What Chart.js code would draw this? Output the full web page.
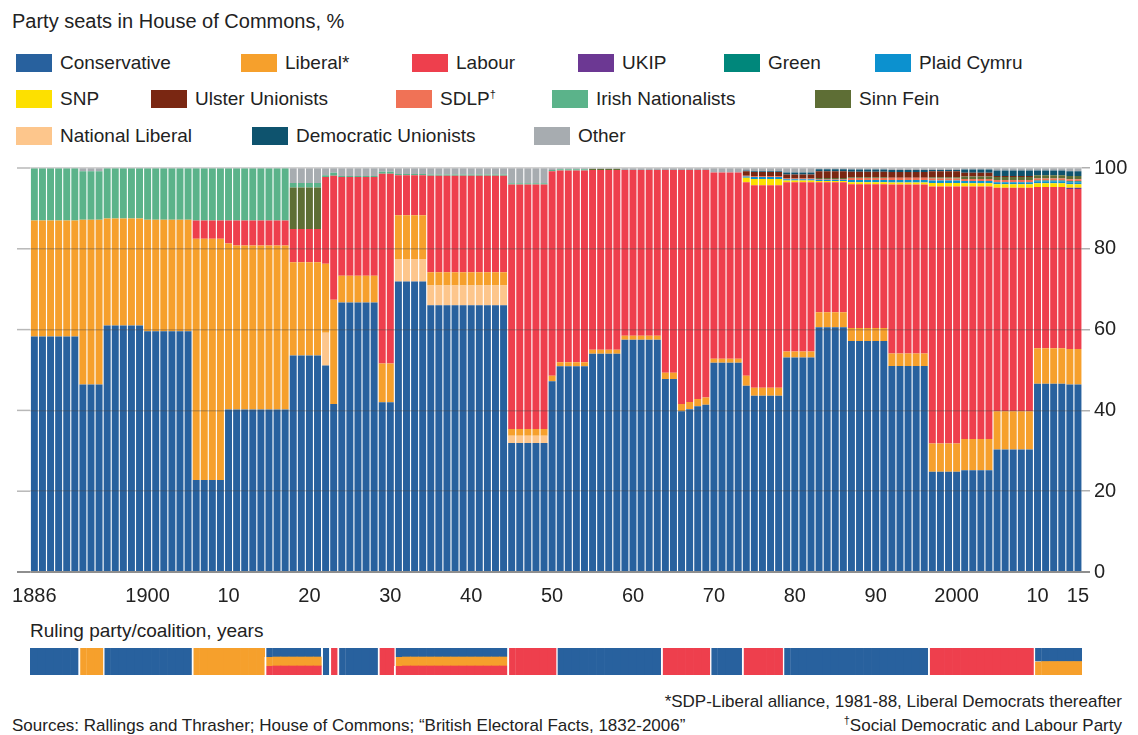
<!DOCTYPE html>
<html>
<head>
<meta charset="utf-8">
<script src="https://cdn.jsdelivr.net/npm/chart.js@4"></script>
<style>
  body { margin: 0; background: #fff; width: 1138px; height: 735px; overflow: hidden; position: relative;
         font-family: "Liberation Sans", Arial, sans-serif; color: #222; }
  .txt { position: absolute; white-space: nowrap; }
  .item { position: absolute; white-space: nowrap; font-size: 19px; line-height: 20px; }
  .sw { position: absolute; left: 0; top: 1px; width: 36px; height: 18px; }
  .item span.lab { position: absolute; left: 44px; top: 0; }
  sup { font-size: 11px; vertical-align: 7px; line-height: 0; }
  .box { position: absolute; left: 0; width: 1138px; }
</style>
</head>
<body>
<div class="txt" style="left:12px;top:10px;font-size:20px">Party seats in House of Commons, %</div>
<div id="legend"></div>
<div class="box" style="top:150px;height:470px"><canvas id="seatsChart"></canvas></div>
<div class="txt" style="left:30px;top:620px;font-size:19px">Ruling party/coalition, years</div>
<div class="box" style="top:640px;height:45px"><canvas id="rulingChart"></canvas></div>
<div class="txt" style="right:16px;top:692px;font-size:17px">*SDP-Liberal alliance, 1981-88, Liberal Democrats thereafter</div>
<div class="txt" style="left:12px;top:716px;font-size:17px">Sources: Rallings and Thrasher; House of Commons; “British Electoral Facts, 1832-2006”</div>
<div class="txt" style="right:16px;top:716px;font-size:17px"><sup>†</sup>Social Democratic and Labour Party</div>

<script>
// years shown, one bar each
const firstYear = 1886, lastYear = 2015;

// composition changes (elections, plus visible by-election drift)
const periodStart = [1886,1892,1895,1900,1906,1910,1911,1918,1922,1923,1924,1929,1931,1935,1945,1950,1951,1955,1959,1964,1966,1967,1968,1969,1970,1974,1975,1979,1983,1987,1992,1997,2001,2005,2010,2014];

// % of seats per period
const conservative    = [58.3,46.4,61.0,59.6,22.8,40.2,40.2,53.6,51.1,41.6,66.7,42.0,71.9,66.0,31.9,47.2,50.9,54.0,57.5,47.8,39.8,40.3,41.0,41.4,51.8,46.1,43.6,53.1,60.6,57.2,51.0,24.8,25.2,30.3,46.6,46.4];
const nationalLiberal = [0,0,0,0,0,0,0,0,8.1,0,0,0,5.6,4.9,1.8,0,0,0,0,0,0,0,0,0,0,0,0,0,0,0,0,0,0,0,0,0];
const liberal         = [28.7,40.8,26.5,27.6,59.7,41.1,40.6,23.1,17.1,25.8,6.6,9.6,10.8,3.3,1.7,1.4,1.0,1.0,1.0,1.5,1.8,1.8,1.8,1.8,1.0,2.5,2.0,1.5,3.7,3.2,3.1,7.0,7.7,9.5,8.8,8.8];
const labour          = [0,0,0,0,4.5,5.7,6.2,8.2,21.5,30.7,24.5,47.0,9.9,23.9,60.5,50.6,47.5,44.5,41.0,50.2,57.9,57.4,56.7,56.3,46.1,47.9,50.1,41.9,32.2,35.6,41.8,63.6,62.5,55.3,39.9,39.6];
const ukip            = [0,0,0,0,0,0,0,0,0,0,0,0,0,0,0,0,0,0,0,0,0,0,0,0,0,0,0,0,0,0,0,0,0,0,0,0.3];
const snp             = [0,0,0,0,0,0,0,0,0,0,0,0,0,0,0,0,0,0,0,0,0,0,0,0,0,1.1,1.6,0.4,0.3,0.5,0.5,0.9,0.8,0.9,0.9,0.9];
const plaidCymru      = [0,0,0,0,0,0,0,0,0,0,0,0,0,0,0,0,0,0,0,0,0,0,0,0,0,0.3,0.5,0.3,0.3,0.5,0.6,0.6,0.6,0.5,0.5,0.5];
const green           = [0,0,0,0,0,0,0,0,0,0,0,0,0,0,0,0,0,0,0,0,0,0,0,0,0,0,0,0,0,0,0,0,0,0,0.2,0.2];
const sdlp            = [0,0,0,0,0,0,0,0,0,0,0,0,0,0,0,0,0,0,0,0,0,0,0,0,0,0.2,0.2,0.2,0.2,0.5,0.6,0.5,0.5,0.5,0.5,0.5];
const sinnFein        = [0,0,0,0,0,0,0,10.3,0,0,0,0,0,0,0,0,0,0.3,0,0,0,0,0,0,0,0,0,0,0.2,0.2,0,0.3,0.6,0.8,0.8,0.8];
const irishNat        = [13.0,12.0,12.5,12.8,13.0,13.0,13.0,1.1,0.4,0.7,0.2,0.5,0.3,0.3,0.3,0.3,0.3,0,0,0,0,0,0,0,0,0,0,0,0,0,0,0,0,0,0,0];
const ulsterUnionists = [0,0,0,0,0,0,0,0,0,0,0,0,0,0,0,0,0,0,0,0,0,0,0,0,0,1.1,1.0,1.0,1.7,1.4,1.4,1.5,0.9,0.2,0,0];
const dup             = [0,0,0,0,0,0,0,0,0,0,0,0,0,0,0,0,0,0,0,0,0,0,0,0,0,0.2,0.2,0.5,0.5,0.5,0.5,0.3,0.8,1.4,1.2,1.2];
const other           = [0,0.8,0,0,0,0,0,3.7,1.8,1.2,2.0,0.9,1.5,1.6,3.8,0.5,0.3,0.2,0.5,0.5,0.5,0.5,0.5,0.5,1.1,0.6,0.8,1.1,0.3,0.4,0.5,0.5,0.4,0.6,0.6,0.8];

// stacking order, bottom to top
const series = [
  { name: 'Conservative',         color: '#28619e', values: conservative },
  { name: 'National Liberal',     color: '#fdc68c', values: nationalLiberal },
  { name: 'Liberal*',             color: '#f6a02c', values: liberal },
  { name: 'Labour',               color: '#ee3f4d', values: labour },
  { name: 'UKIP',                 color: '#6c3893', values: ukip },
  { name: 'SNP',                  color: '#fde000', values: snp },
  { name: 'Plaid Cymru',          color: '#0c91cf', values: plaidCymru },
  { name: 'Green',                color: '#00877b', values: green },
  { name: 'SDLP†',                color: '#f07256', values: sdlp },
  { name: 'Sinn Fein',            color: '#5e6e35', values: sinnFein },
  { name: 'Irish Nationalists',   color: '#5bb38a', values: irishNat },
  { name: 'Ulster Unionists',     color: '#7a2712', values: ulsterUnionists },
  { name: 'Democratic Unionists', color: '#0e536e', values: dup },
  { name: 'Other',                color: '#a7acb0', values: other }
];

// x tick text
const tickYears = [1886, 1900, 1910, 1920, 1930, 1940, 1950, 1960, 1970, 1980, 1990, 2000, 2010, 2015];
const tickText  = ['1886', '1900', '10', '20', '30', '40', '50', '60', '70', '80', '90', '2000', '10', '15'];

// ruling party / coalition
const rulingStart   = [1886, 1892, 1895, 1906, 1915, 1922, 1923, 1924, 1929, 1931, 1945, 1951, 1964, 1970, 1974, 1979, 1997, 2010];
const rulingParties = [['Con'], ['Lib'], ['Con'], ['Lib'], ['Con','Lib','Lab'], ['Con'], ['Lab'], ['Con'], ['Lab'],
                       ['Con','Lib','Lab'], ['Lab'], ['Con'], ['Lab'], ['Con'], ['Lab'], ['Con'], ['Lab'], ['Con','Lib']];

// legend rows as in the original
const legendRows = [
  ['Conservative', 'Liberal*', 'Labour', 'UKIP', 'Green', 'Plaid Cymru'],
  ['SNP', 'Ulster Unionists', 'SDLP†', 'Irish Nationalists', 'Sinn Fein'],
  ['National Liberal', 'Democratic Unionists', 'Other']
];
const legendLeft = [[16, 241, 412, 578, 724, 875], [16, 151, 396, 552, 815], [16, 252, 534]];
const legendTop = [53, 89, 126];

// ---- build per-year arrays
const years = [];
for (let y = firstYear; y <= lastYear; y++) years.push(y);

function periodIndex(starts, year) {
  let k = 0;
  for (let i = 0; i < starts.length; i++) if (starts[i] <= year) k = i;
  return k;
}

// legend
const legend = document.getElementById('legend');
legendRows.forEach((row, r) => {
  row.forEach((name, c) => {
    const s = series.find(d => d.name === name);
    const el = document.createElement('div');
    el.className = 'item';
    el.style.left = legendLeft[r][c] + 'px';
    el.style.top = legendTop[r] + 'px';
    const label = name.replace('†', '<sup>†</sup>');
    el.innerHTML = '<div class="sw" style="background:' + s.color + '"></div><span class="lab">' + label + '</span>';
    legend.appendChild(el);
  });
});

const font = '"Liberation Sans", Arial, sans-serif';

// gridline stubs to the left of the bars, plus baseline
const gridStubs = {
  id: 'gridStubs',
  afterDraw(chart) {
    const ys = chart.scales.y, c = chart.ctx, area = chart.chartArea;
    c.save();
    ys.ticks.forEach(t => {
      const py = ys.getPixelForValue(t.value);
      c.strokeStyle = t.value === 0 ? '#8e8e8e' : '#b8b8b8';
      c.lineWidth = t.value === 0 ? 2 : 1.5;
      c.beginPath(); c.moveTo(17, py); c.lineTo(area.left, py); c.stroke();
    });
    c.restore();
  }
};

new Chart(document.getElementById('seatsChart'), {
  type: 'bar',
  data: {
    labels: years,
    datasets: series.map(s => ({
      label: s.name,
      data: years.map(y => s.values[periodIndex(periodStart, y)] || null),
      backgroundColor: s.color,
      borderWidth: 0,
      barPercentage: 0.86,
      categoryPercentage: 1,
      stack: 'seats'
    }))
  },
  options: {
    responsive: true,
    maintainAspectRatio: false,
    animation: false,
    layout: { padding: { left: 30, top: 18, right: 0, bottom: 0 } },
    plugins: { legend: { display: false }, tooltip: { enabled: false } },
    scales: {
      x: {
        stacked: true,
        grid: { display: false, drawTicks: false },
        border: { display: false },
        ticks: {
          autoSkip: false, maxRotation: 0, padding: 12,
          color: '#222', font: { family: font, size: 20 },
          callback: function (v, i) {
            const k = tickYears.indexOf(years[i]);
            return k >= 0 ? tickText[k] : '';
          }
        },
        afterFit: s => { s.height = 48; }
      },
      y: {
        stacked: true,
        position: 'right',
        min: 0, max: 100,
        border: { display: false },
        grid: {
          z: 1,
          tickLength: 8,
          color: c => c.tick.value === 100 ? '#d2d2d2' : c.tick.value === 0 ? '#8e8e8e' : 'rgba(70,70,70,0.3)',
          tickColor: c => c.tick.value === 0 ? '#8e8e8e' : '#b0b0b0',
          lineWidth: c => c.tick.value === 0 ? 2 : 1.5
        },
        ticks: { stepSize: 20, padding: 4, color: '#222', font: { family: font, size: 20 } },
        afterFit: s => { s.width = 56; }
      }
    }
  },
  plugins: [gridStubs]
});

// ruling party strip
const rulingKeys = ['Lab', 'Lib', 'Con'];
const rulingColors = { Con: '#28619e', Lib: '#f6a02c', Lab: '#ee3f4d' };
const yearPeriod = years.map(y => periodIndex(rulingStart, y));

new Chart(document.getElementById('rulingChart'), {
  type: 'bar',
  data: {
    labels: years,
    datasets: rulingKeys.map(key => ({
      label: key,
      data: yearPeriod.map(p => rulingParties[p].includes(key) ? 1 / rulingParties[p].length : null),
      backgroundColor: rulingColors[key],
      borderColor: '#ffffff',
      borderSkipped: false,
      borderWidth: c => (c.dataIndex > 0 && yearPeriod[c.dataIndex] !== yearPeriod[c.dataIndex - 1])
        ? { left: 2, right: 0, top: 0, bottom: 0 } : 0,
      barPercentage: 1,
      categoryPercentage: 1,
      stack: 'rule'
    }))
  },
  options: {
    responsive: true,
    maintainAspectRatio: false,
    animation: false,
    layout: { padding: { left: 30, right: 56, top: 8, bottom: 10 } },
    plugins: { legend: { display: false }, tooltip: { enabled: false } },
    scales: {
      x: { display: false, stacked: true },
      y: { display: false, stacked: true, min: 0, max: 1 }
    }
  }
});
</script>
</body>
</html>
